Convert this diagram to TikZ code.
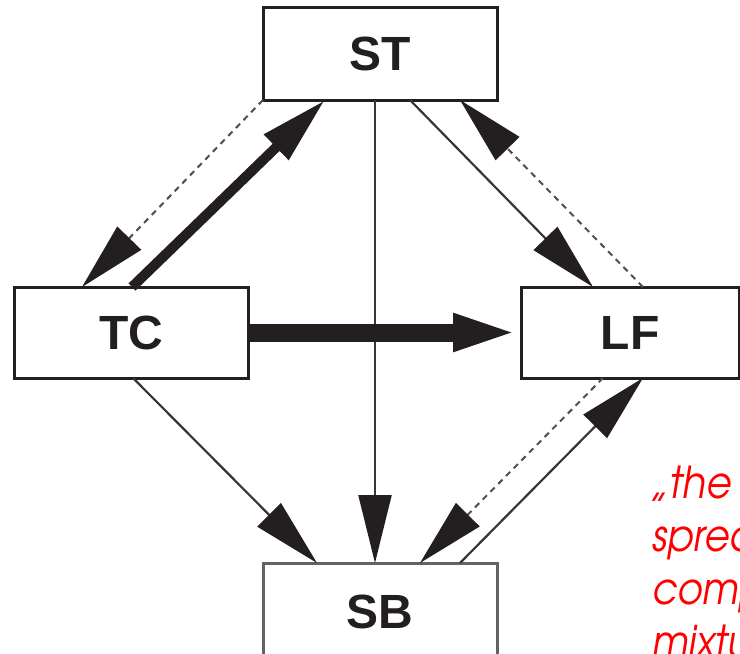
\documentclass[tikz,border=0pt]{standalone}
\usepackage{fontspec}
\setmainfont{Liberation Sans}
\newfontfamily\redfont[FakeStretch=0.88]{TeX Gyre Adventor}
\usetikzlibrary{arrows.meta}
\definecolor{ink}{RGB}{35,31,32}
\definecolor{dashgray}{RGB}{80,80,80}
\tikzset{
  box/.style={draw=ink, line width=3pt, rectangle, outer sep=0pt, inner sep=0pt,
    font=\bfseries\fontsize{48}{50}\selectfont, text=ink},
  tipbig/.style={-{Triangle[length=68pt,width=33pt,color=ink]}},
  thinarrow/.style={tipbig, draw=ink!90, line width=2.2pt},
  dasharrow/.style={tipbig, draw=dashgray, line width=2pt, dash pattern=on 6pt off 5pt},
  thickarrow/.style={tipbig, draw=ink, line width=10pt},
  redtext/.style={anchor=base west, inner sep=0pt, text=red,
    font=\redfont\itshape\fontsize{44}{53}\selectfont}
}
\begin{document}
\begin{tikzpicture}[x=1pt,y=-1pt]
\useasboundingbox (0,0) rectangle (740,654);
\clip (0,0) rectangle (740,654);
\node[box, minimum width=234pt, minimum height=93pt] (ST) at (380,53.5) {ST};
\node[box, minimum width=234pt, minimum height=91pt] (TC) at (131,332.5) {TC};
\node[box, minimum width=218pt, minimum height=91pt] (LF) at (630,332.5) {LF};
\node[box, draw=ink!70, minimum width=234pt, minimum height=98pt] (SB) at (380,612) {SB};
% ST <-> TC
\draw[dasharrow] (ST.south west) -- ([xshift=68pt]TC.north west);
\draw[thickarrow] ([xshift=118pt]TC.north west) -- ([xshift=62pt]ST.south west);
% ST -> SB
\draw[thinarrow] ([xshift=-5pt]ST.south) -- ([xshift=-5pt]SB.north);
% ST <-> LF
\draw[thinarrow] ([xshift=147pt]ST.south west) -- ([xshift=72pt]LF.north west);
\draw[dasharrow] ([xshift=122pt]LF.north west) -- ([xshift=197pt]ST.south west);
% TC -> LF
\draw[tipbig, draw=ink, line width=18pt] (TC.east) -- (LF.west);
% TC -> SB
\draw[thinarrow] ([xshift=119pt]TC.south west) -- ([xshift=54pt]SB.north west);
% LF <-> SB
\draw[dasharrow] ([xshift=82pt]LF.south west) -- ([xshift=157pt]SB.north west);
\draw[thinarrow] ([xshift=197pt]SB.north west) -- ([xshift=122pt]LF.south west);
% red quote
\node[redtext] (q1) at (650,498) {„the most};
\node[redtext] (q2) at (652,551) {spread};
\node[redtext] (q3) at (652,604) {complex};
\node[redtext] (q4) at (652,657) {mixture};
\end{tikzpicture}
\end{document}
